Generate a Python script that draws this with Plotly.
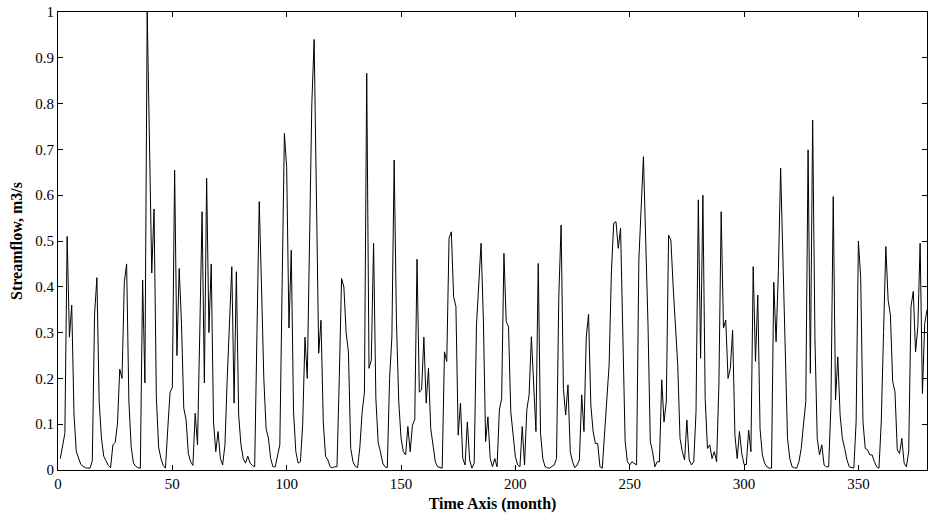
import plotly.graph_objects as go

# Monthly streamflow (m3/s), months 1..380
flow_001_060 = [0.025, 0.05, 0.08, 0.51, 0.29, 0.36, 0.12, 0.04, 0.025, 0.012,
                0.008, 0.005, 0.004, 0.004, 0.02, 0.34, 0.42, 0.15, 0.07, 0.03,
                0.02, 0.01, 0.005, 0.055, 0.06, 0.10, 0.22, 0.20, 0.41, 0.45,
                0.15, 0.05, 0.015, 0.008, 0.005, 0.004, 0.415, 0.19, 1.0, 0.70,
                0.43, 0.57, 0.16, 0.05, 0.025, 0.01, 0.004, 0.09, 0.17, 0.18,
                0.655, 0.25, 0.44, 0.32, 0.135, 0.11, 0.036, 0.018, 0.01, 0.124]
flow_061_120 = [0.055, 0.30, 0.564, 0.19, 0.637, 0.30, 0.45, 0.105, 0.04, 0.084,
                0.025, 0.011, 0.055, 0.20, 0.33, 0.444, 0.146, 0.433, 0.12, 0.055,
                0.025, 0.015, 0.03, 0.015, 0.01, 0.007, 0.30, 0.586, 0.40, 0.20,
                0.09, 0.07, 0.025, 0.007, 0.007, 0.03, 0.055, 0.40, 0.735, 0.66,
                0.31, 0.48, 0.127, 0.04, 0.015, 0.018, 0.10, 0.29, 0.20, 0.50,
                0.80, 0.94, 0.60, 0.255, 0.327, 0.105, 0.03, 0.022, 0.007, 0.005]
flow_121_180 = [0.007, 0.007, 0.20, 0.418, 0.40, 0.30, 0.258, 0.047, 0.018, 0.008,
                0.005, 0.05, 0.127, 0.17, 0.866, 0.222, 0.24, 0.495, 0.156, 0.06,
                0.04, 0.015, 0.007, 0.005, 0.20, 0.29, 0.677, 0.324, 0.15, 0.07,
                0.04, 0.033, 0.095, 0.04, 0.098, 0.11, 0.46, 0.17, 0.175, 0.29,
                0.146, 0.222, 0.09, 0.047, 0.018, 0.007, 0.005, 0.004, 0.258, 0.237,
                0.506, 0.52, 0.378, 0.357, 0.076, 0.146, 0.025, 0.011, 0.105, 0.022]
flow_181_240 = [0.004, 0.015, 0.317, 0.40, 0.495, 0.33, 0.062, 0.116, 0.025, 0.007,
                0.025, 0.007, 0.131, 0.156, 0.473, 0.324, 0.313, 0.127, 0.069, 0.029,
                0.011, 0.007, 0.095, 0.011, 0.131, 0.164, 0.291, 0.19, 0.084, 0.451,
                0.08, 0.025, 0.007, 0.005, 0.004, 0.008, 0.011, 0.025, 0.38, 0.535,
                0.178, 0.12, 0.186, 0.04, 0.018, 0.005, 0.011, 0.022, 0.164, 0.084,
                0.29, 0.34, 0.142, 0.084, 0.058, 0.058, 0.007, 0.004, 0.076, 0.142]
flow_241_300 = [0.23, 0.433, 0.539, 0.542, 0.484, 0.528, 0.29, 0.062, 0.018, 0.011,
                0.018, 0.015, 0.011, 0.459, 0.57, 0.684, 0.50, 0.317, 0.062, 0.04,
                0.007, 0.018, 0.018, 0.197, 0.105, 0.149, 0.513, 0.502, 0.40, 0.317,
                0.23, 0.069, 0.04, 0.022, 0.109, 0.022, 0.011, 0.018, 0.127, 0.59,
                0.244, 0.60, 0.156, 0.047, 0.055, 0.025, 0.04, 0.018, 0.186, 0.564,
                0.31, 0.327, 0.20, 0.222, 0.305, 0.076, 0.025, 0.084, 0.036, 0.012]
flow_301_360 = [0.012, 0.087, 0.04, 0.444, 0.237, 0.382, 0.09, 0.033, 0.015, 0.007,
                0.004, 0.004, 0.41, 0.28, 0.433, 0.659, 0.477, 0.244, 0.069, 0.025,
                0.007, 0.005, 0.004, 0.018, 0.047, 0.10, 0.149, 0.699, 0.211, 0.764,
                0.287, 0.069, 0.033, 0.055, 0.011, 0.007, 0.007, 0.142, 0.597, 0.153,
                0.247, 0.12, 0.069, 0.047, 0.022, 0.007, 0.005, 0.004, 0.105, 0.50,
                0.42, 0.105, 0.047, 0.044, 0.033, 0.033, 0.018, 0.007, 0.004, 0.105]
flow_361_380 = [0.30, 0.488, 0.371, 0.338, 0.193, 0.171, 0.044, 0.036, 0.069, 0.015,
                0.007, 0.04, 0.357, 0.39, 0.258, 0.313, 0.495, 0.167, 0.32, 0.35]

flow = (flow_001_060 + flow_061_120 + flow_121_180 + flow_181_240
        + flow_241_300 + flow_301_360 + flow_361_380)
months = list(range(1, len(flow) + 1))

x_ticks = [0, 50, 100, 150, 200, 250, 300, 350]
y_ticks = [0, 0.1, 0.2, 0.3, 0.4, 0.5, 0.6, 0.7, 0.8, 0.9, 1]
y_tick_text = ["0", "0.1", "0.2", "0.3", "0.4", "0.5", "0.6", "0.7", "0.8", "0.9", "1"]

font_family = "Liberation Serif, Times New Roman, serif"

fig = go.Figure()
fig.add_trace(go.Scatter(x=months, y=flow, mode="lines",
                         line=dict(color="black", width=1), showlegend=False))

axis_common = dict(showgrid=False, zeroline=False, showline=True, linecolor="black",
                   linewidth=1, mirror="ticks", ticks="inside", ticklen=5,
                   tickcolor="black", tickwidth=1, automargin=False,
                   tickfont=dict(family=font_family, size=15, color="black"))

fig.update_xaxes(range=[0, 380], tickvals=x_ticks,
                 title=dict(text="<b>Time Axis (month)</b>", standoff=6,
                            font=dict(family=font_family, size=16, color="black")),
                 **axis_common)
fig.update_yaxes(range=[0, 1], tickvals=y_ticks, ticktext=y_tick_text,
                 title=dict(text="<b>Streamflow, m3/s</b>", standoff=8,
                            font=dict(family=font_family, size=16, color="black")),
                 **axis_common)

fig.update_layout(width=928, height=522, plot_bgcolor="white", paper_bgcolor="white",
                  margin=dict(l=58, r=1, t=12, b=52),
                  font=dict(family=font_family, color="black"))

fig.write_html("out.html",
               config={"displayModeBar": False},
               post_script="document.body.style.margin='0';"
                           "document.body.style.overflow='hidden';")
